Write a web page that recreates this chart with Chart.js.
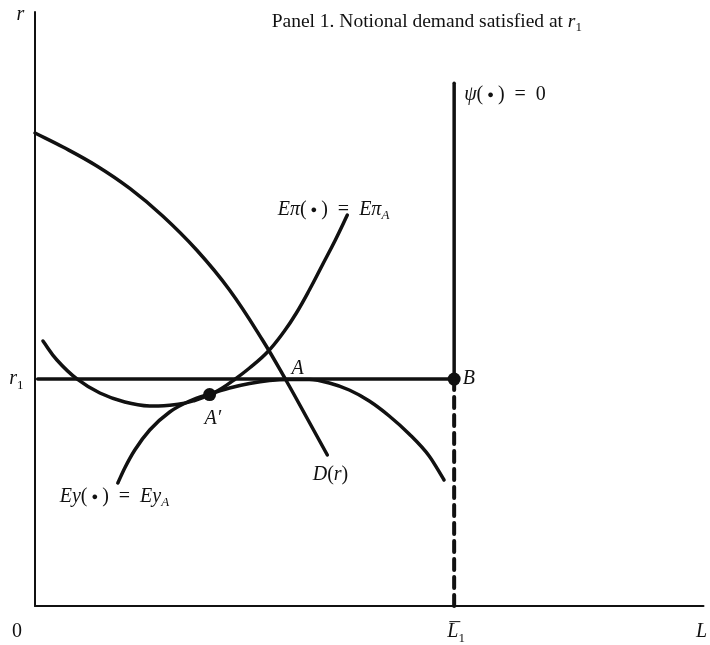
<!DOCTYPE html>
<html>
<head>
<meta charset="utf-8">
<script src="https://cdn.jsdelivr.net/npm/chart.js@4"></script>
<style>
html,body{margin:0;padding:0;background:#fff;}
canvas{display:block;}
</style>
</head>
<body>
<canvas id="c" width="710" height="645"></canvas>
<script>
// ---- data (L on x, r on y; arbitrary units 0..100) ----
const r1 = 38.2;
const Lbar = 62.7;
const psiTop = 88.0;

const demandL = [0, 4.18, 9.25, 14.18, 19.10, 24.18, 29.10, 34.03, 37.61, 40.60, 43.73];
const demandR = [79.63, 77.27, 74.07, 70.29, 65.66, 59.93, 53.20, 44.78, 37.88, 31.82, 25.42];

const profitL = [1.19, 3.28, 6.27, 9.70, 13.43, 17.16, 21.64, 23.88, 26.12, 27.91, 29.85, 32.09, 34.78, 37.31, 39.10, 41.04, 42.99, 44.93, 46.72];
const profitR = [44.61, 41.41, 38.22, 35.86, 34.34, 33.67, 34.01, 34.60, 35.52, 36.62, 38.13, 40.07, 42.76, 46.30, 49.33, 53.20, 57.41, 61.62, 65.82];

const yieldL = [12.39, 13.43, 14.93, 17.16, 20.15, 23.13, 26.12, 29.10, 32.09, 35.07, 38.06, 41.04, 44.03, 47.01, 50.0, 52.99, 55.97, 58.96, 61.19];
const yieldR = [20.71, 23.23, 26.26, 29.63, 32.66, 34.51, 35.69, 36.70, 37.46, 37.96, 38.13, 38.13, 37.54, 36.36, 34.51, 31.99, 28.96, 25.25, 21.21];

const pointAprime = {x: 26.12, y: 35.6};
const pointB = {x: Lbar, y: r1};

const pts = (xs, ys) => xs.map((x, i) => ({x, y: ys[i]}));

const INK = '#111';

const labelPlugin = {
  id: 'labels',
  afterDatasetsDraw(chart) {
    const ctx = chart.ctx;
    const sx = chart.scales.x, sy = chart.scales.y;
    const SERIF = '"Liberation Serif", "DejaVu Serif", serif';
    // seg: [text, italic, sub, sizeOverride]
    function rich(segs, x, y, align, size) {
      ctx.save();
      ctx.fillStyle = INK;
      ctx.textBaseline = 'middle';
      ctx.textAlign = 'left';
      const font = (s) => (s[1] ? 'italic ' : '') + (s[3] ? s[3] : (s[2] ? Math.round(size * 0.65) : size)) + 'px ' + SERIF;
      let w = 0;
      segs.forEach(s => { ctx.font = font(s); w += ctx.measureText(s[0]).width; });
      let px = sx.getPixelForValue(x), py = sy.getPixelForValue(y);
      if (align === 'center') px -= w / 2;
      segs.forEach(s => {
        ctx.font = font(s);
        ctx.fillText(s[0], px, s[2] ? py + size * 0.3 : py);
        px += ctx.measureText(s[0]).width;
      });
      ctx.restore();
      return w;
    }
    const bul = [['(\u2009', false], ['\u25CF', false, false, 11], ['\u2009)\u2002=\u2002', false]];
    rich([['Panel 1. Notional demand satisfied at ', false], ['r', true], ['1', false, true]], 35.4, 98.3, 'left', 19.5);
    rich([['r', true]], -2.2, 99.6, 'center', 20);
    rich([['r', true], ['1', false, true]], -2.8, r1, 'center', 20);
    rich([['0', false]], -2.7, -4.4, 'center', 20);
    const w = rich([['L', true], ['1', false, true]], 63.0, -4.4, 'center', 20);
    {
      const cx = sx.getPixelForValue(63.0) - w / 2;
      const cy = sy.getPixelForValue(-4.4);
      ctx.save();
      ctx.strokeStyle = INK; ctx.lineWidth = 1;
      ctx.beginPath(); ctx.moveTo(cx + 2, cy - 10.5); ctx.lineTo(cx + 13, cy - 10.5); ctx.stroke();
      ctx.restore();
    }
    rich([['L', true]], 99.7, -4.4, 'center', 20);
    rich([['ψ', true], ...bul, ['0', false]], 64.2, 86.0, 'left', 20);
    rich([['Eπ', true], ...bul, ['Eπ', true], ['A', true, true]], 36.3, 66.7, 'left', 20);
    rich([['A', true]], 39.3, 39.9, 'center', 20);
    rich([['A′', true]], 26.6, 31.6, 'center', 20);
    rich([['B', true]], 64.0, r1, 'left', 20);
    rich([['D', true], ['(', false], ['r', true], [')', false]], 44.2, 22.1, 'center', 20);
    rich([['Ey', true], ...bul, ['Ey', true], ['A', true, true]], 3.7, 18.4, 'left', 20);
  }
};

new Chart(document.getElementById('c'), {
  type: 'scatter',
  data: {
    datasets: [
      {data: [{x: 0, y: 0}, {x: 0, y: 100}], showLine: true, borderColor: INK, borderWidth: 2, pointRadius: 0},
      {data: [{x: 0, y: 0}, {x: 100, y: 0}], showLine: true, borderColor: INK, borderWidth: 2, pointRadius: 0},
      {data: [{x: 0.4, y: r1}, {x: Lbar, y: r1}], showLine: true, borderColor: INK, borderWidth: 3.5, pointRadius: 0},
      {data: [{x: Lbar, y: r1}, {x: Lbar, y: psiTop}], showLine: true, borderColor: INK, borderWidth: 3.5, pointRadius: 0},
      {data: [{x: Lbar, y: r1}, {x: Lbar, y: 0}], showLine: true, borderColor: INK, borderWidth: 4, borderDash: [11, 7], pointRadius: 0},
      {data: pts(demandL, demandR), showLine: true, borderColor: INK, borderWidth: 3.5, pointRadius: 0, tension: 0.4},
      {data: pts(profitL, profitR), showLine: true, borderColor: INK, borderWidth: 3.5, pointRadius: 0, tension: 0.4},
      {data: pts(yieldL, yieldR), showLine: true, borderColor: INK, borderWidth: 3.5, pointRadius: 0, cubicInterpolationMode: 'monotone'},
      {data: [pointAprime, pointB], showLine: false, backgroundColor: INK, borderColor: INK, pointRadius: 6.5, pointBorderWidth: 0}
    ]
  },
  options: {
    responsive: false,
    animation: false,
    layout: {padding: {left: 35, right: 5, top: 12, bottom: 39}},
    plugins: {legend: {display: false}, tooltip: {enabled: false}},
    elements: {line: {borderCapStyle: 'round'}},
    datasets: {scatter: {clip: false}},
    scales: {
      x: {type: 'linear', min: 0, max: 100, display: false},
      y: {type: 'linear', min: 0, max: 100, display: false}
    }
  },
  plugins: [labelPlugin]
});
</script>
</body>
</html>
